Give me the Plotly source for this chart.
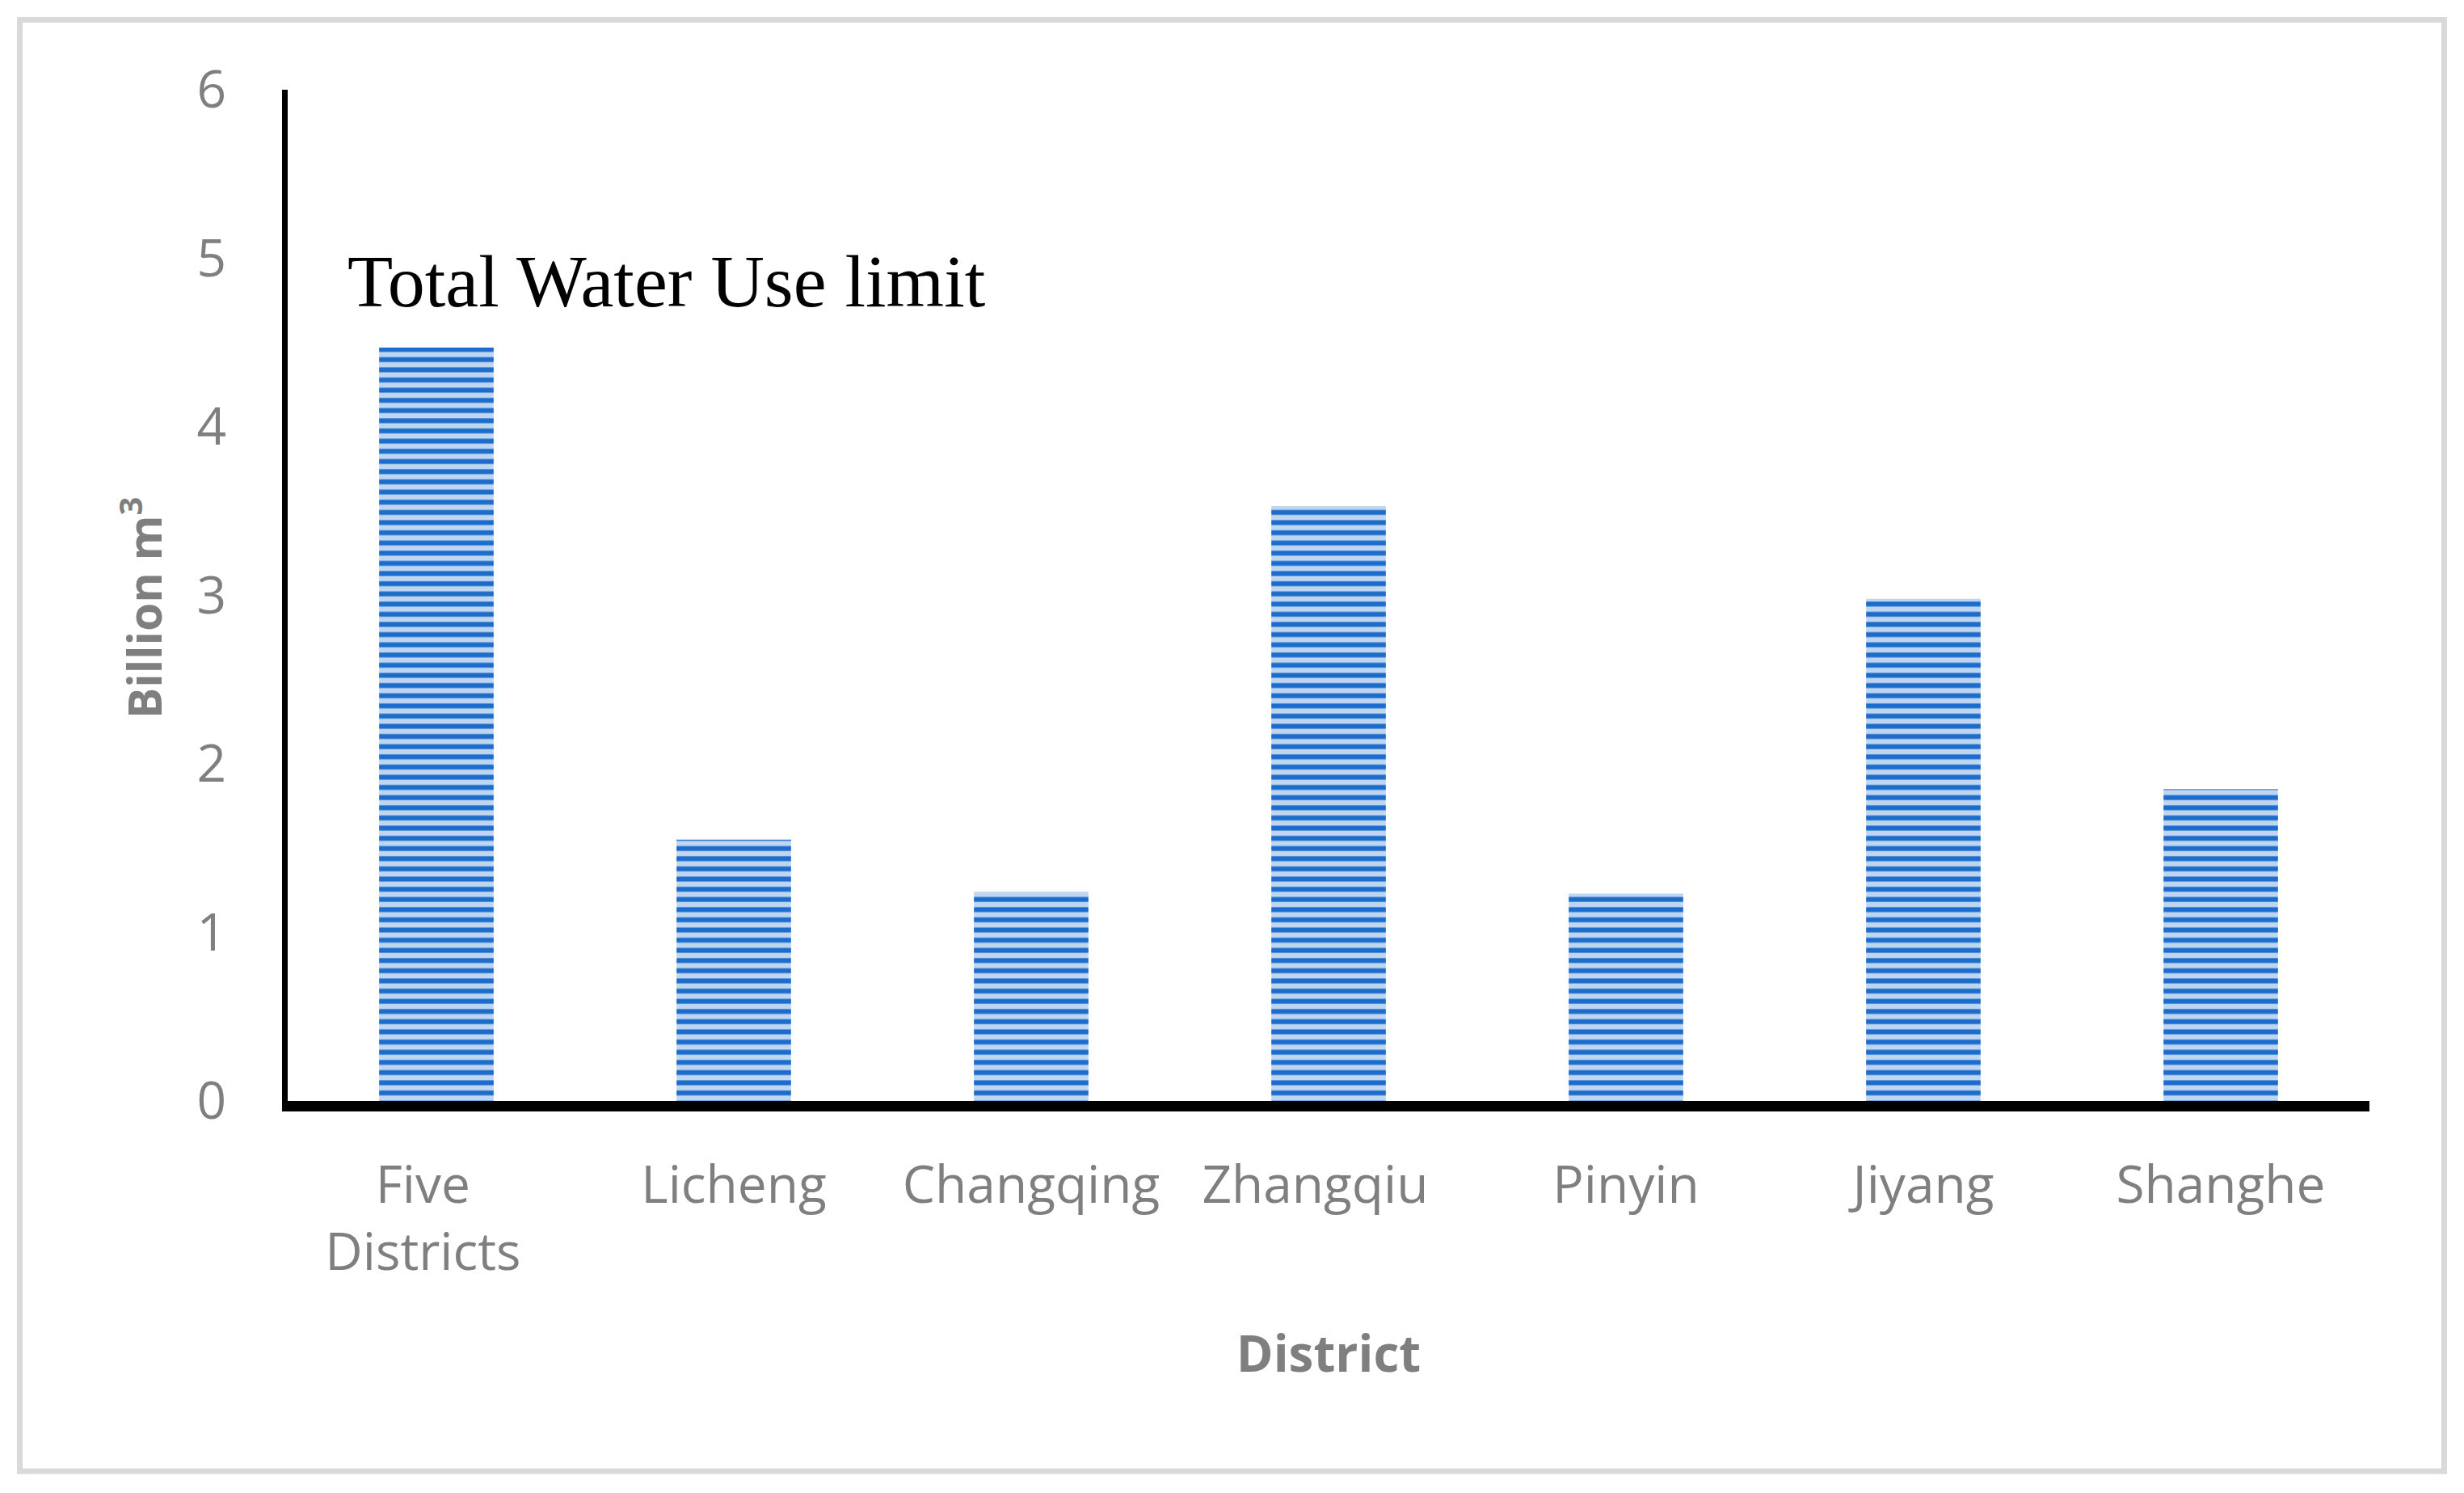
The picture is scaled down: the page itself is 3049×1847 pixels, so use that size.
import plotly.graph_objs as go

# data
districts = ["Five Districts", "Licheng", "Changqing", "Zhangqiu", "Pinyin", "Jiyang", "Shanghe"]
water_limit = [4.47, 1.55, 1.24, 3.53, 1.23, 2.98, 1.85]
y_ticks = [0, 1, 2, 3, 4, 5, 6]
# tick labels as laid out in the original (wrapped, some nudged left)
nb = "\u00a0"
tick_labels = ["Five" + nb * 2 + "<br>Districts" + nb * 2, "Licheng", "Changqing",
               "Zhangqiu" + nb * 2, "Pinyin", "Jiyang", "Shanghe"]

W, H = 3049, 1847
OFF = 8  # page body margin pushes everything down/right
L, R, T, B = 356 - OFF, 117 + OFF, 111 - OFF, 485 + OFF
pw = W - L - R
ph = H - T - B


def px_x(v):
    return (v - OFF - L) / pw


def px_y(v):
    return 1 - (v - OFF - T) / ph


trace = go.Bar(
    x=districts,
    y=water_limit,
    marker=dict(
        color="#bfd5f0",
        line=dict(width=0),
        pattern=dict(shape="-", fgcolor="#1c6ccb", fgopacity=1,
                     size=12.6, solidity=0.48),
    ),
    showlegend=False,
)

fig = go.Figure(data=[trace])

grey = "#7f7f7f"
tick_font = dict(family="Open Sans", size=64, color=grey)
title_font = dict(family="Open Sans", size=62, color=grey, weight="bold")

fig.update_layout(
    width=W,
    height=H,
    margin=go.layout.Margin(l=L, r=R, t=T, b=B, pad=0),
    paper_bgcolor="white",
    plot_bgcolor="white",
    bargap=0.615,
    xaxis=dict(
        showline=True, linecolor="black", linewidth=13,
        showgrid=False, ticks="", tickfont=tick_font,
        tickmode="array", tickvals=districts, ticktext=tick_labels,
        ticklabelstandoff=36,
        title=dict(text="<b>District</b>", font=title_font, standoff=70),
    ),
    yaxis=dict(
        range=[0, 6], tickvals=y_ticks,
        showline=True, linecolor="black", linewidth=7,
        showgrid=False, zeroline=False, ticks="", tickfont=tick_font,
        ticklabelstandoff=56,
    ),
    annotations=[
        dict(
            text="Total Water Use limit",
            xref="paper", yref="paper",
            x=px_x(428), y=px_y(348),
            xanchor="left", yanchor="middle",
            showarrow=False,
            font=dict(family="Liberation Serif", size=92, color="black"),
        ),
        # y axis title
        dict(
            text="<b>Billion m<sup>3</sup></b>",
            xref="paper", yref="paper",
            x=px_x(175), y=px_y(752),
            xanchor="center", yanchor="middle",
            textangle=-90, showarrow=False,
            font=dict(family="Open Sans", size=57, color=grey),
        ),
    ],
    shapes=[
        dict(
            type="rect", xref="paper", yref="paper",
            x0=px_x(24.5), x1=px_x(3024.5), y0=px_y(1820), y1=px_y(24.5),
            line=dict(color="#d9d9d9", width=7),
            fillcolor="rgba(0,0,0,0)", layer="below",
        )
    ],
)

fig.write_html("out.html")
